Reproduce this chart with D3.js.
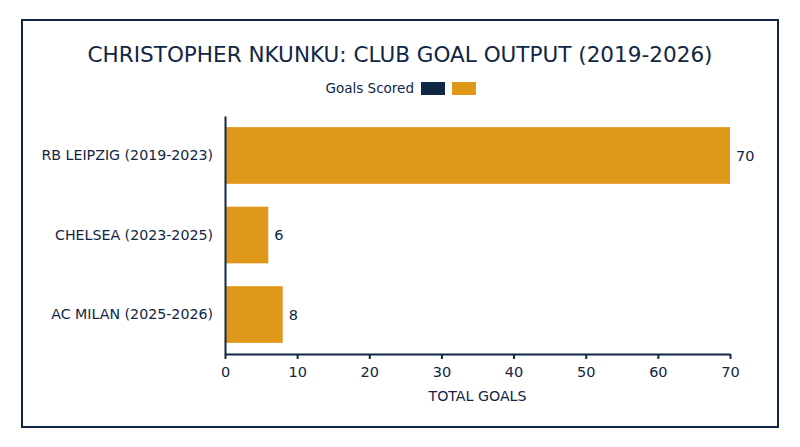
<!DOCTYPE html>
<html>
<head>
<meta charset="utf-8">
<script src="https://cdn.jsdelivr.net/npm/d3@7"></script>
<style>
  body { margin: 0; background: #fff; }
  text { font-family: "DejaVu Sans", sans-serif; fill: #0f2645; }
</style>
</head>
<body>
<svg id="chart" width="800" height="447"></svg>
<script>
var clubs = ["RB LEIPZIG (2019-2023)", "CHELSEA (2023-2025)", "AC MILAN (2025-2026)"];
var goals = [70, 6, 8];
var xTicks = [0, 10, 20, 30, 40, 50, 60, 70];
var legendColors = ["#0f2645", "#e0981a"];

var navy = "#0f2645";
var gold = "#e0981a";

var svg = d3.select("#chart");

// outer frame
svg.append("rect")
  .attr("x", 22).attr("y", 20)
  .attr("width", 756).attr("height", 407)
  .attr("fill", "none")
  .attr("stroke", navy)
  .attr("stroke-width", 2);

svg.append("text")
  .attr("x", 400).attr("y", 62)
  .attr("text-anchor", "middle")
  .attr("font-size", 21)
  .attr("textLength", 625)
  .attr("lengthAdjust", "spacingAndGlyphs")
  .text("CHRISTOPHER NKUNKU: CLUB GOAL OUTPUT (2019-2026)");

// legend
svg.append("text")
  .attr("x", 414).attr("y", 93)
  .attr("text-anchor", "end")
  .attr("font-size", 13.5)
  .text("Goals Scored");

svg.selectAll(".swatch")
  .data(legendColors)
  .enter()
  .append("rect")
  .attr("class", "swatch")
  .attr("x", function (c, i) { return 421 + i * 31; })
  .attr("y", 82)
  .attr("width", 24).attr("height", 13)
  .attr("fill", function (c) { return c; });

var xScale = d3.scaleLinear().domain([0, 70]).range([225, 730]);
var yScale = d3.scaleBand().domain(clubs).range([116, 354])
  .paddingInner(0.287).paddingOuter(0.14);

svg.selectAll(".bar")
  .data(clubs)
  .enter()
  .append("rect")
  .attr("class", "bar")
  .attr("x", xScale(0))
  .attr("y", function (c) { return yScale(c); })
  .attr("width", function (c, i) { return xScale(goals[i]) - xScale(0); })
  .attr("height", yScale.bandwidth())
  .attr("fill", gold);

svg.selectAll(".val")
  .data(clubs)
  .enter()
  .append("text")
  .attr("class", "val")
  .attr("x", function (c, i) { return xScale(goals[i]) + 6; })
  .attr("y", function (c) { return yScale(c) + yScale.bandwidth() / 2; })
  .attr("dy", "0.35em")
  .attr("font-size", 14.5)
  .text(function (c, i) { return goals[i]; });

// axes
var xAxis = svg.append("g")
  .attr("transform", "translate(0,354)")
  .call(d3.axisBottom(xScale).tickValues(xTicks).tickSize(5).tickPadding(8).tickSizeOuter(0));
xAxis.selectAll("text").attr("font-size", 14.5).attr("font-family", null);
xAxis.selectAll("line, path").attr("stroke", navy).attr("stroke-width", 2);

var yAxis = svg.append("g")
  .attr("transform", "translate(225,0)")
  .call(d3.axisLeft(yScale).tickSize(0).tickPadding(12).tickSizeOuter(0));
yAxis.selectAll("text").attr("font-size", 14.2).attr("font-family", null);
yAxis.select("path").attr("stroke", navy).attr("stroke-width", 2);

svg.append("text")
  .attr("x", xScale(35)).attr("y", 401)
  .attr("text-anchor", "middle")
  .attr("font-size", 14.2)
  .text("TOTAL GOALS");
</script>
</body>
</html>
